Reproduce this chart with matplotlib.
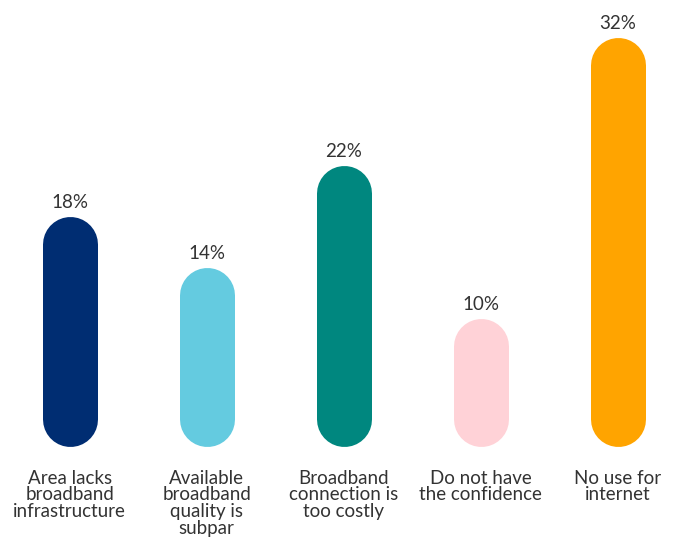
import matplotlib

matplotlib.use("Agg")

import matplotlib.pyplot as plt

categories = [
    "Area lacks\nbroadband\ninfrastructure",
    "Available\nbroadband\nquality is\nsubpar",
    "Broadband\nconnection is\ntoo costly",
    "Do not have\nthe confidence",
    "No use for\ninternet",
]
values = [18, 14, 22, 10, 32]
colors = ["#002D72", "#64CBE0", "#00877F", "#FFD2D7", "#FFA400"]

W, H, DPI = 674, 542, 100
BAR_PX = 55

plt.rcParams["font.family"] = ["Lato", "DejaVu Sans"]

fig = plt.figure(figsize=(W / DPI, H / DPI), dpi=DPI)
ax = fig.add_axes([0, 95.3 / H, 1, 446.7 / H])
ax.set_xlim(-69.7 / 137, (W - 69.7) / 137)
ax.set_ylim(0, 446.7 / 12.8)
ax.axis("off")

# radius of the rounded caps, in data units along y
px_per_unit = ax.transData.transform((0, 1))[1] - ax.transData.transform((0, 0))[1]
r = (BAR_PX / 2) / px_per_unit
lw = BAR_PX * 72 / DPI

for i, (cat, val, col) in enumerate(zip(categories, values, colors)):
    ax.plot([i, i], [r, val - r], color=col, lw=lw, solid_capstyle="round")
    ax.annotate(
        f"{val}%",
        (i, val),
        xytext=(0, 4),
        textcoords="offset points",
        ha="center",
        va="bottom",
        fontsize=13.5,
        color="#333333",
    )
    ax.annotate(
        cat,
        (i, 0),
        xytext=(0, -16.5),
        textcoords="offset points",
        ha="center",
        va="top",
        fontsize=13.5,
        color="#333333",
        linespacing=0.98,
        annotation_clip=False,
    )

fig.savefig("out.png", dpi=DPI)
